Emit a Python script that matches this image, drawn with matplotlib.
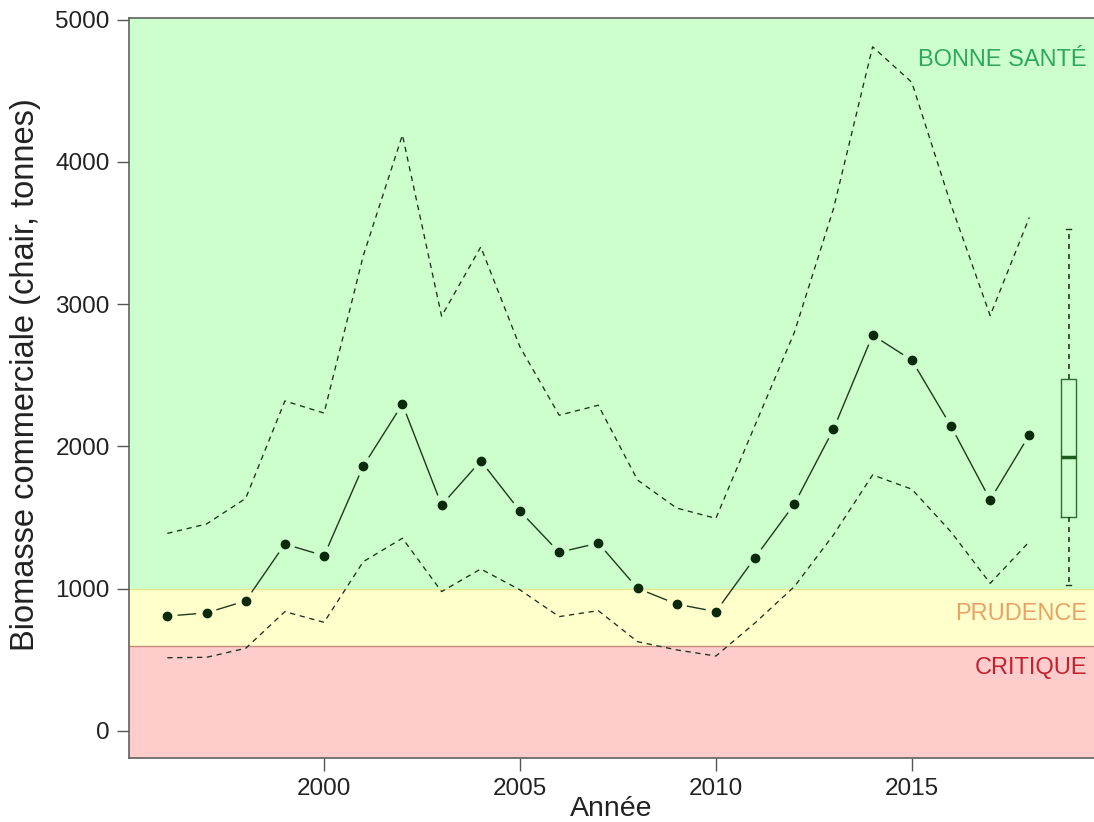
import numpy as np
import matplotlib
matplotlib.use('Agg')
import matplotlib.pyplot as plt

plt.rcParams['font.family'] = ['Liberation Sans', 'DejaVu Sans']

# data
years = list(range(1996, 2019))
biomass = [808, 830, 915, 1314, 1232, 1862, 2298, 1588, 1899, 1546, 1256, 1321,
           1003, 892, 839, 1219, 1594, 2121, 2783, 2607, 2143, 1625, 2082]
upper = [1389, 1455, 1635, 2320, 2235, 3340, 4190, 2916, 3403, 2700, 2220, 2290,
         1764, 1567, 1495, 2150, 2800, 3670, 4810, 4560, 3700, 2920, 3610]
lower = [515, 518, 581, 839, 764, 1190, 1355, 980, 1139, 992, 804, 846,
         628, 570, 527, 760, 1014, 1378, 1800, 1700, 1400, 1038, 1331]

# summary box drawn at the right
box_year = 2019
box_stats = dict(whislo=1027, q1=1503, med=1929, q3=2473, whishi=3527)

# status zones
zone_critical = 600
zone_caution = 1000
zone_labels = ['BONNE SANTÉ', 'PRUDENCE', 'CRITIQUE']
zone_label_y = [4714, 820, 443]
zone_label_colors = ['#2ea85e', '#eaa265', '#c4202e']

xticks = [2000, 2005, 2010, 2015]
yticks = [0, 1000, 2000, 3000, 4000, 5000]


def gapped_line(ax, x, y, gap=9, **kw):
    # R-style type="b": segments stop short of each point
    pts = ax.transData.transform(np.column_stack([x, y]))
    inv = ax.transData.inverted()
    for p0, p1 in zip(pts[:-1], pts[1:]):
        d = p1 - p0
        L = np.hypot(*d)
        if L <= 2 * gap:
            continue
        u = d / L
        a = inv.transform(p0 + u * gap)
        b = inv.transform(p1 - u * gap)
        ax.plot([a[0], b[0]], [a[1], b[1]], **kw)


fig = plt.figure(figsize=(10.94, 8.22), dpi=100)
ax = fig.add_axes([0.1182, 0.0775, 0.8818, 0.9002])
xmin, xmax = 1995.03, 2019.65
ymin, ymax = -192, 5010
ax.set_xlim(xmin, xmax)
ax.set_ylim(ymin, ymax)

ax.axhspan(zone_caution, ymax, color='#ccffcc', zorder=0, lw=0)
ax.axhspan(zone_critical, zone_caution, color='#ffffcc', zorder=0, lw=0)
ax.axhspan(ymin, zone_critical, color='#ffcccc', zorder=0, lw=0)
ax.axhline(zone_caution, color='#e6e68a', lw=1, zorder=1)
ax.axhline(zone_critical, color='#c98a7e', lw=1, zorder=1)

dash = (0, (4, 3.5))
ax.plot(years, upper, color='#1a331a', lw=0.95, linestyle=dash, zorder=2)
ax.plot(years, lower, color='#1a331a', lw=0.95, linestyle=dash, zorder=2)
gapped_line(ax, years, biomass, gap=11, color='#1e3a1e', lw=1.0, zorder=3)
ax.plot(years, biomass, 'o', color='#0b2a0b', markersize=6, zorder=4)

bp = ax.bxp([box_stats], positions=[box_year], widths=0.4, showfliers=False,
            patch_artist=False, manage_ticks=False,
            boxprops=dict(color='#2e6b2e', lw=1),
            medianprops=dict(color='#1e5a1e', lw=2.5),
            whiskerprops=dict(color='#1e3a1e', lw=1.2, linestyle=(0, (3, 3))),
            capprops=dict(color='#1e3a1e', lw=1), capwidths=0.15)
for t in bp['boxes'] + bp['medians'] + bp['whiskers'] + bp['caps']:
    t.set_zorder(5)

for lab, yv, c in zip(zone_labels, zone_label_y, zone_label_colors):
    ax.text(2019.47, yv, lab, color=c, fontsize=17, ha='right', va='center', zorder=6)

ax.set_xlim(xmin, xmax)
ax.set_xticks(xticks)
ax.set_xticklabels([str(t) for t in xticks])
ax.set_yticks(yticks)
ax.tick_params(axis='both', labelsize=17.5, length=9, width=1, color='#555555',
               labelcolor='#222222', pad=5)
for s in ['left', 'bottom', 'top']:
    ax.spines[s].set_color('#606060')
    ax.spines[s].set_linewidth(1.2)
ax.spines['right'].set_visible(False)

ax.set_xlabel('Année', fontsize=20.5, color='#222222', labelpad=-3)
ax.set_ylabel('Biomasse commerciale (chair, tonnes)', fontsize=23.5, color='#222222')
ax.yaxis.set_label_coords(-0.092, 0.518)

fig.savefig('out.png', dpi=100)
